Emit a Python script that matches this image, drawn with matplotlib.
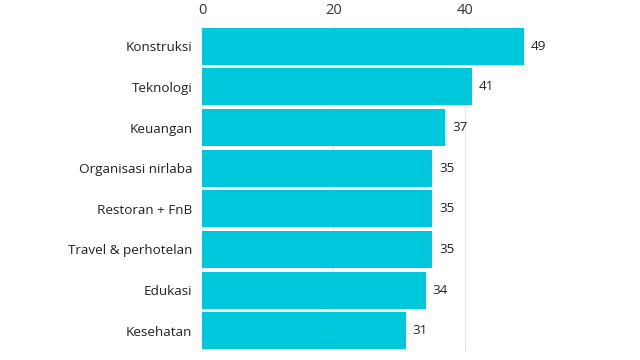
import matplotlib.pyplot as plt

categories = [
    "Konstruksi",
    "Teknologi",
    "Keuangan",
    "Organisasi nirlaba",
    "Restoran + FnB",
    "Travel & perhotelan",
    "Edukasi",
    "Kesehatan",
]
values = [49, 41, 37, 35, 35, 35, 34, 31]

plt.rcParams["font.family"] = ["Open Sans", "DejaVu Sans"]

fig = plt.figure(figsize=(6.4, 3.6), dpi=100)
ax = fig.add_axes([0.3156, 0.025, 0.565, 0.9028])

ypos = list(range(len(categories)))
ax.barh(ypos, values, height=0.91, color="#00C8DC", zorder=2)
ax.set_ylim(len(categories) - 0.5, -0.5)
ax.set_xlim(0, 55)

ax.set_yticks(ypos)
ax.set_yticklabels(categories, fontsize=9.7, color="#222222")
ax.set_xticks([0, 20, 40])
ax.xaxis.tick_top()
ax.tick_params(axis="x", length=0, pad=6, labelsize=10.5, labelcolor="#333333")
ax.tick_params(axis="y", length=0, pad=7)

ax.grid(axis="x", color="#e6e6e6", linewidth=0.8, zorder=0)
for side in ax.spines.values():
    side.set_visible(False)

for y, v in zip(ypos, values):
    ax.annotate(str(v), (v, y), xytext=(5, 0), textcoords="offset points",
                va="center", ha="left", fontsize=9.7, color="#222222")

fig.savefig("out.png", dpi=100)
